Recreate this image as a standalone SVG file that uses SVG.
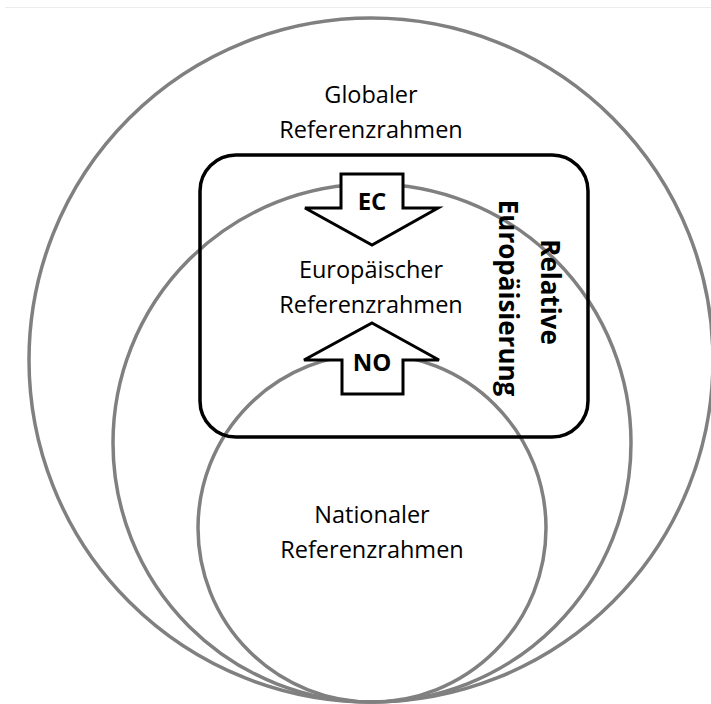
<svg xmlns="http://www.w3.org/2000/svg" width="711" height="704" viewBox="0 0 711 704">
<style>
.ring{fill:none;stroke:#808080;stroke-width:3.5}
.box{fill:none;stroke:#000;stroke-width:3.5}
.arrow{fill:#fff;stroke:#000;stroke-width:3;stroke-linejoin:miter}
.lbl{font-family:"Open Sans","Noto Sans",sans-serif;font-size:23.5px;fill:#000;text-anchor:middle}
.bold{font-family:"Open Sans","Noto Sans",sans-serif;font-weight:bold;fill:#000;text-anchor:middle}
</style>
<rect width="711" height="704" fill="#fff"/>
<line x1="5" y1="7.5" x2="711" y2="7.5" stroke="#ececec" stroke-width="1"/>
<g id="global">
<circle class="ring" cx="371" cy="360" r="342"/>
<text class="lbl" x="371" y="103">Globaler</text>
<text class="lbl" x="371" y="138">Referenzrahmen</text>
</g>
<g id="european">
<circle class="ring" cx="372" cy="443" r="259"/>
<text class="lbl" x="371" y="278">Europäischer</text>
<text class="lbl" x="371" y="313">Referenzrahmen</text>
</g>
<g id="national">
<circle class="ring" cx="372" cy="528" r="174"/>
<text class="lbl" x="372" y="523">Nationaler</text>
<text class="lbl" x="372" y="558">Referenzrahmen</text>
</g>
<g id="relative">
<rect class="box" x="200" y="155" width="388" height="282" rx="36" ry="36"/>
<text class="bold" style="font-size:26px" transform="translate(541,292) rotate(90)">Relative</text>
<text class="bold" style="font-size:26px" transform="translate(499,298) rotate(90)">Europäisierung</text>
</g>
<g id="connectors">
<g id="ec">
<polygon class="arrow" points="341,174 403,174 403,208 438,208 372,245 305,208 341,208"/>
<text class="bold" style="font-size:24px" x="372" y="210">EC</text>
</g>
<g id="no">
<polygon class="arrow" points="372,323 439,360 403,360 403,394 342,394 342,360 304,360"/>
<text class="bold" style="font-size:24px" x="372" y="371">NO</text>
</g>
</g>
</svg>
